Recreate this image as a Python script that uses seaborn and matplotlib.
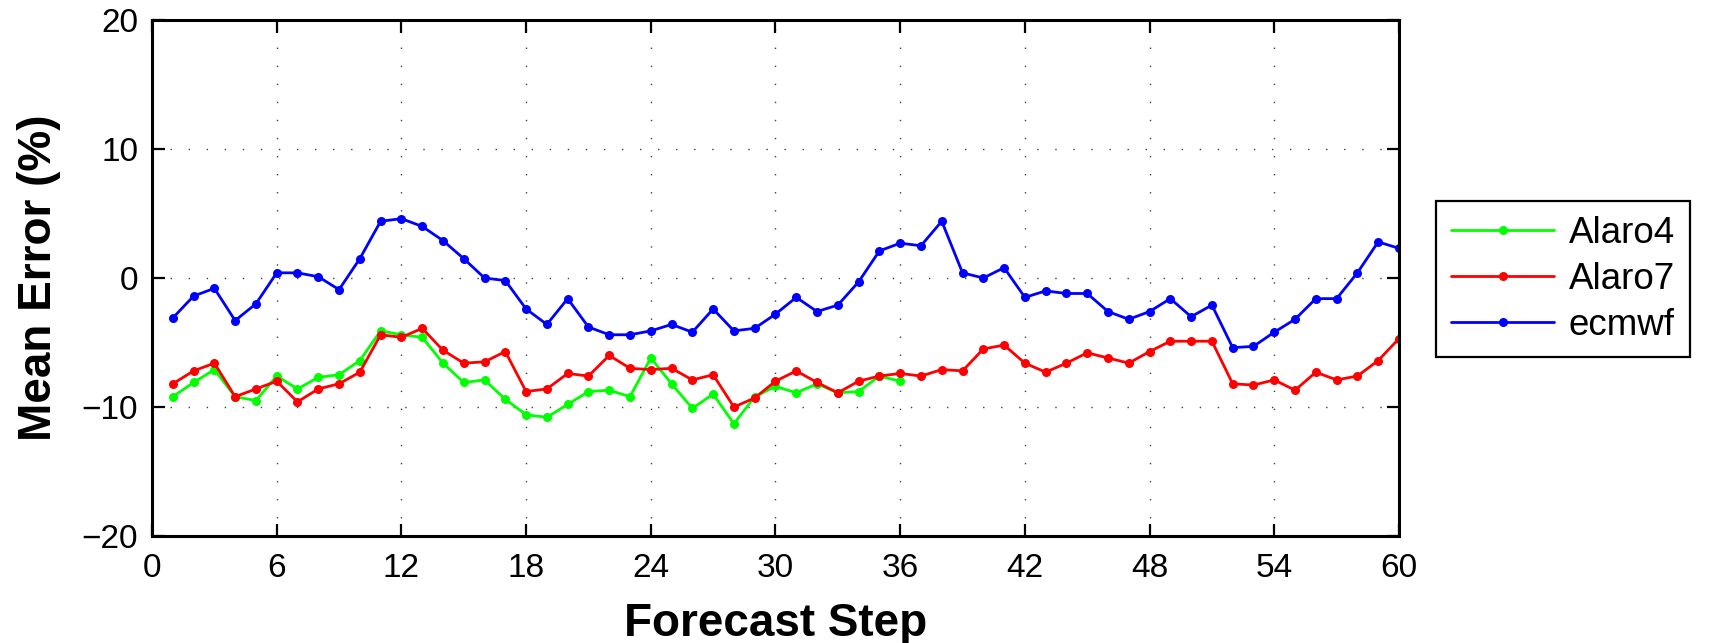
import numpy as np
import pandas as pd
import matplotlib
matplotlib.use("Agg")
import matplotlib.pyplot as plt
import seaborn as sns

sns.set_style("ticks")
plt.rcParams["font.family"] = ["Liberation Sans", "DejaVu Sans"]
plt.rcParams["text.color"] = "black"
plt.rcParams["axes.labelcolor"] = "black"

# mean error (%) per forecast step
STEPS_ALL = list(range(1, 61))
STEPS_A4 = list(range(1, 37))

ALARO4 = [-9.2, -8.1, -7.1, -9.2, -9.5, -7.6, -8.6, -7.7, -7.5, -6.4,
          -4.1, -4.4, -4.6, -6.6, -8.1, -7.9, -9.4, -10.6, -10.8, -9.8,
          -8.8, -8.7, -9.2, -6.2, -8.2, -10.1, -9.0, -11.3, -9.2, -8.4,
          -8.9, -8.2, -8.9, -8.8, -7.6, -8.0]

ALARO7 = [-8.2, -7.2, -6.6, -9.2, -8.6, -8.0, -9.6, -8.6, -8.2, -7.3,
          -4.4, -4.6, -3.9, -5.6, -6.6, -6.5, -5.7, -8.8, -8.6, -7.4,
          -7.6, -6.0, -7.0, -7.1, -7.0, -7.9, -7.5, -10.0, -9.3, -8.0,
          -7.2, -8.1, -8.9, -8.0, -7.6, -7.4, -7.6, -7.1, -7.2, -5.5,
          -5.2, -6.6, -7.3, -6.6, -5.8, -6.2, -6.6, -5.7, -4.9, -4.9,
          -4.9, -8.2, -8.3, -7.9, -8.7, -7.3, -7.9, -7.6, -6.4, -4.7]

ECMWF = [-3.1, -1.4, -0.8, -3.3, -2.0, 0.4, 0.4, 0.1, -0.9, 1.5,
         4.4, 4.6, 4.0, 2.9, 1.5, 0.0, -0.2, -2.4, -3.6, -1.6,
         -3.8, -4.4, -4.4, -4.1, -3.6, -4.2, -2.4, -4.1, -3.9, -2.8,
         -1.5, -2.6, -2.1, -0.3, 2.1, 2.7, 2.5, 4.4, 0.4, 0.0,
         0.8, -1.5, -1.0, -1.2, -1.2, -2.6, -3.2, -2.6, -1.6, -3.0,
         -2.1, -5.4, -5.3, -4.2, -3.2, -1.6, -1.6, 0.4, 2.8, 2.3]

SERIES = ["Alaro4", "Alaro7", "ecmwf"]
COLORS = ["#00ff00", "#ff0000", "#0000ff"]

fig = plt.figure(figsize=(17.1, 6.43), dpi=100)
ax = fig.add_axes([0.0889, 0.1664, 0.7292, 0.8025])

for name, xs, ys, col in zip(SERIES, [STEPS_A4, STEPS_ALL, STEPS_ALL],
                             [ALARO4, ALARO7, ECMWF], COLORS):
    df = pd.DataFrame({"step": xs, "err": ys})
    sns.lineplot(data=df, x="step", y="err", ax=ax, color=col, label=name,
                 marker="o", markersize=6.5, markeredgewidth=0, linewidth=2)

ax.set_xlim(0, 60)
ax.set_ylim(-20, 20)
ax.set_xticks(np.arange(0, 61, 6))
ax.set_yticks([-20, -10, 0, 10, 20])
ax.grid(True, color="#404040", linestyle=(0, (1, 12)), linewidth=1)

for s in ax.spines.values():
    s.set_linewidth(2.2)
    s.set_color("black")
ax.tick_params(direction="in", length=9, width=1.6, labelsize=24,
               top=True, right=True, colors="black")
ax.tick_params(axis="x", pad=12)
ax.tick_params(axis="y", pad=10)

ax.set_xlabel("Forecast Step", fontsize=33, fontweight="bold")
ax.set_ylabel("Mean Error (%)", fontsize=33, fontweight="bold")
ax.xaxis.set_label_coords(0.5, -0.128)
ax.yaxis.set_label_coords(-0.073, 0.5)

leg = ax.legend(loc="center left", bbox_to_anchor=(0.840, 0.566),
                bbox_transform=fig.transFigure, fontsize=26.5,
                frameon=True, fancybox=False, framealpha=1,
                edgecolor="black", handlelength=2.8, handletextpad=0.4,
                labelspacing=0.3, borderpad=0.4, borderaxespad=0)
leg.get_frame().set_linewidth(1.6)
for line in leg.get_lines():
    line.set_markersize(6.5)

fig.savefig("out.png", dpi=100)
